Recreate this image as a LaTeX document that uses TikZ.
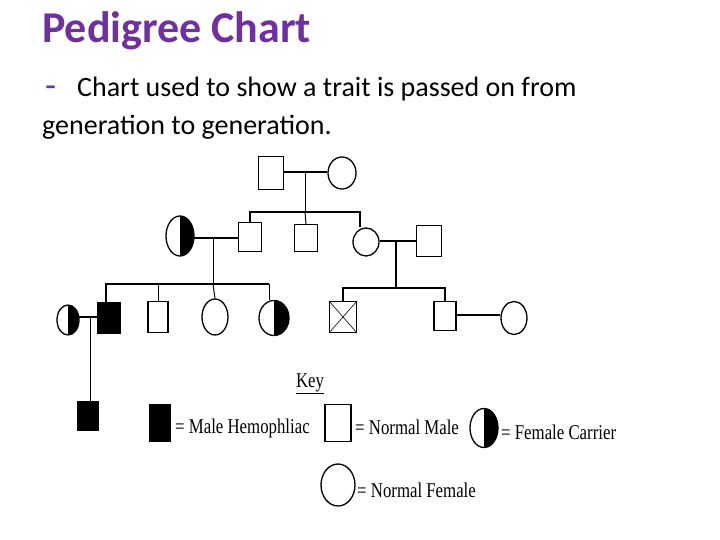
\documentclass[tikz,border=0pt]{standalone}
\usepackage{fontspec}
\usetikzlibrary{shapes.geometric}
\setmainfont{Carlito}
\newfontfamily\keyfont{Liberation Serif}
\definecolor{ttl}{HTML}{7030A0}
\begin{document}
\begin{tikzpicture}[x=1pt,y=-1pt,
  thick line/.style={line width=2pt},
  thin line/.style={line width=1pt},
  keytxt/.style={anchor=west,inner sep=0pt,font=\keyfont\fontsize{21}{21}\selectfont}]
\useasboundingbox[fill=white] (0,0) rectangle (720,540);
\node[anchor=west,inner sep=0pt,text=ttl,font=\bfseries\fontsize{44}{44}\selectfont] (title) at (42,31) {Pedigree Chart};
\node[anchor=west,inner sep=0pt,text=ttl,font=\fontsize{36}{36}\selectfont] (dash) at (45,92) {-};
\node[anchor=west,inner sep=0pt,font=\fontsize{28}{28}\selectfont] (sub1) at (77,89) {Chart used to show a trait is passed on from};
\node[anchor=west,inner sep=0pt,font=\fontsize{28}{28}\selectfont] (sub2) at (42,127) {generation to generation.};
% shapes
\newcommand\sq[5]{\node[draw,line width=1.3pt,minimum width=#3pt,minimum height=#4pt,inner sep=0pt,#5] (#1) at #2 {};}
\newcommand\ci[5]{\node[draw,ellipse,line width=1.3pt,minimum width=#3pt,minimum height=#4pt,inner sep=0pt,#5] (#1) at #2 {};}
\newcommand\car[4]{\node[inner sep=0pt,minimum width=#3pt,minimum height=#4pt] (#1) at #2 {};
  \fill (#1.north) arc[start angle=-90,end angle=90,x radius=#3/2,y radius=#4/2] -- cycle;
  \draw[line width=1.3pt] (#1.center) ellipse[x radius=#3/2,y radius=#4/2];}
\sq{g1m}{(271,173)}{25}{33}{}
\ci{g1f}{(342,173)}{28}{32}{}
\car{g2c}{(180,236)}{28}{40}
\sq{g2a}{(250,237)}{23}{29}{}
\sq{g2b}{(306,238)}{23}{27}{}
\ci{g2f}{(366,242)}{26}{28}{}
\sq{g2h}{(429,241)}{25}{31}{}
\car{g3w}{(68,320)}{22}{30}
\sq{g3a}{(109,318)}{22}{30}{fill=black}
\sq{g3b}{(158,317)}{20}{31}{}
\ci{g3c}{(215,317)}{26}{36}{}
\car{g3d}{(274,318)}{30}{35}
\sq{g3x}{(343,317)}{27}{31}{}
\draw[line width=0.6pt] (g3x.north west)--(g3x.south east) (g3x.north east)--(g3x.south west);
\sq{g3e}{(445,316)}{22}{29}{}
\ci{g3f}{(514,318)}{26}{33}{}
\sq{g4}{(88,416)}{21}{29}{fill=black}
% lines
\coordinate (m1) at (305,172);
\draw[thick line] (g1m.east|-m1) -- (g1f.west|-m1);
\draw[thin line] (m1) -- (305,212);
\draw[thick line] (g2a.north) |- (360,212) -- (g2f.north-|360,0);
\draw[thin line] (305,212) -- (g2b.north);
\coordinate (m2) at (213,238);
\draw[thick line] (g2c.east|-m2) -- (g2a.west|-m2);
\draw[thin line] (m2) -- (213,285);
\draw[thick line] (g3a.north-|106,0) |- (269,284);
\draw[thin line] (g3b.north) -- (158,284);
\draw[thin line] (213,284) -- (g3c.north);
\draw[thin line] (269,284) -- (g3d.north-|269,0);
\coordinate (m3) at (396,241);
\draw[thick line] (g2f.east|-m3) -- (g2h.west|-m3);
\draw[thick line] (m3) -- (396,288);
\draw[thick line] (g3x.north) |- (445,288) -- (g3e.north);
\coordinate (m5) at (478,315);
\draw[thick line] (g3e.east|-m5) -- (g3f.west|-m5);
\coordinate (m4) at (90,317);
\draw[thick line] (g3w.east|-m4) -- (g3a.west|-m4);
\draw[thin line] (m4) -- (g4.north-|90,0);
% key
\node[inner sep=0pt,font=\keyfont\fontsize{21}{21}\selectfont] (key) at (310,384) {\underline{\scalebox{0.8}[1]{Key}}};
\sq{k1}{(160,423)}{20}{37}{fill=black}
\node[keytxt] (k1t) at (175,428) {\scalebox{0.8}[1]{= Male Hemophliac}};
\sq{k2}{(338,423)}{26}{37}{}
\node[keytxt] (k2t) at (355,427) {\scalebox{0.8}[1]{= Normal Male}};
\car{k3}{(484,428)}{28}{39}
\node[keytxt] (k3t) at (501,432) {\scalebox{0.8}[1]{= Female Carrier}};
\ci{k4}{(338,485)}{34}{42}{}
\node[keytxt] (k4t) at (357,490) {\scalebox{0.8}[1]{= Normal Female}};
\end{tikzpicture}
\end{document}
